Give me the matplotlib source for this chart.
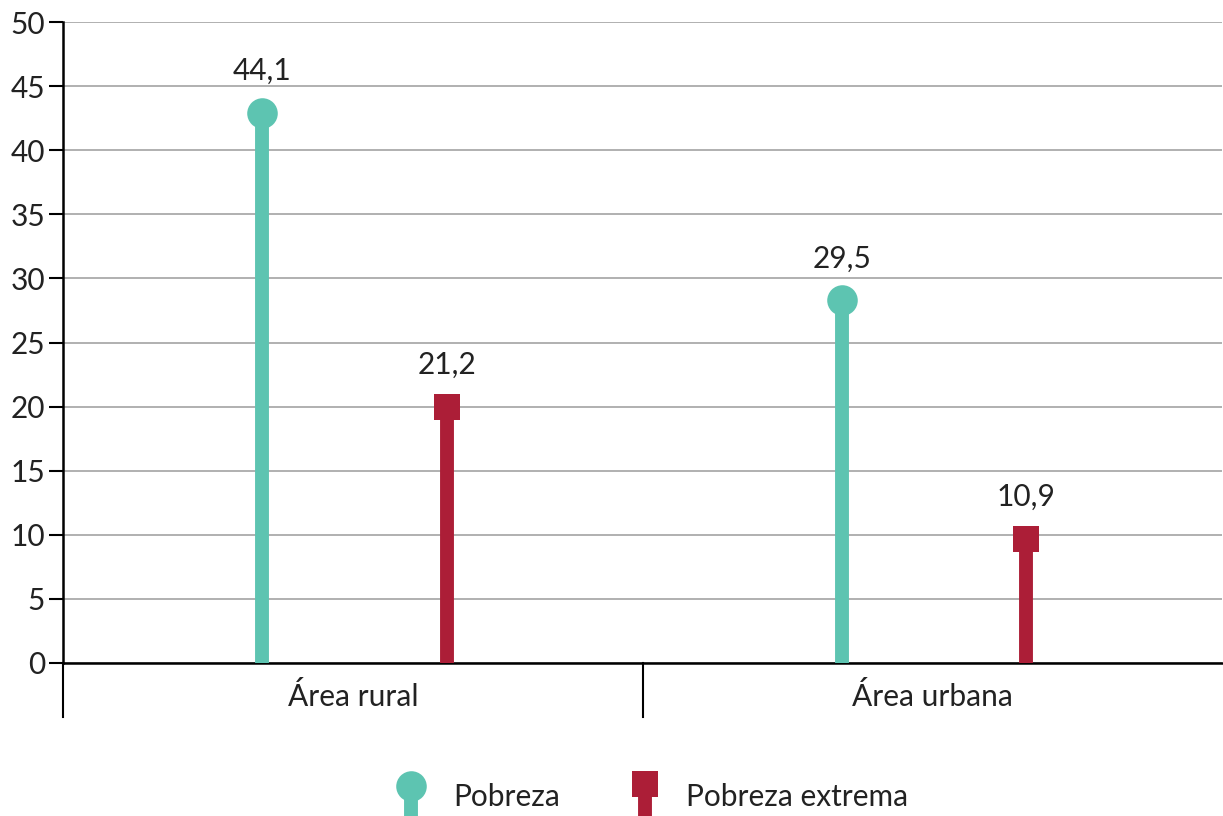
import matplotlib
matplotlib.use("Agg")
import matplotlib.pyplot as plt
from matplotlib.lines import Line2D
import numpy as np

plt.rcParams['font.family'] = ['Lato', 'DejaVu Sans']

categories = ["Área rural", "Área urbana"]
pobreza = [44.1, 29.5]
pobreza_extrema = [21.2, 10.9]
series_names = ["Pobreza", "Pobreza extrema"]
yticks = [0, 5, 10, 15, 20, 25, 30, 35, 40, 45, 50]

teal = "#5DC4B1"
red = "#AC1E37"
txt = "#222222"
fs = 21.5

W, H = 1223, 816
fig = plt.figure(figsize=(W / 100, H / 100), dpi=100)
ax = fig.add_axes([63 / W, 153 / H, 1159 / W, 641 / H])
ax.set_xlim(-0.5, 1.5)
ax.set_ylim(0, 50)
px = 50 / 641  # data units per pixel

ax.set_yticks(yticks)
ax.set_yticklabels([str(t) for t in yticks], fontsize=fs, color=txt)
ax.tick_params(axis='y', length=10, width=1.5, pad=3, color='black')
ax.set_xticks([])
ax.grid(axis='y', color='#aaaaaa', linewidth=1.3)
ax.set_axisbelow(True)
for s in ['top', 'right']:
    ax.spines[s].set_visible(False)
ax.spines['left'].set_linewidth(1.8)
ax.spines['bottom'].set_linewidth(1.8)

x = np.arange(len(categories))

def draw(xs, vals, color, marker, msize, mshift):
    for xi, v in zip(xs, vals):
        ytop = v - mshift * px
        ax.vlines(xi, 0, ytop, color=color, linewidth=10, zorder=3)
        ax.plot([xi], [ytop], marker=marker, color=color, markersize=msize,
                markeredgewidth=0, zorder=4)
        ax.annotate(f"{v:.1f}".replace(".", ","), (xi, v), xytext=(0, 19),
                    textcoords='offset points', ha='center', va='center',
                    fontsize=fs, color=txt)

draw(x - 0.156, pobreza, teal, 'o', 22, 15)
draw(x + 0.162, pobreza_extrema, red, 's', 19, 16)

# category labels and separators below the axis
for xi, c in zip(x, categories):
    ax.text(xi, -34 * px, c, ha='center', va='center', fontsize=fs, color=txt)
for xs in [-0.5, 0.5]:
    ax.plot([xs, xs], [0, -54 * px], color='black', linewidth=1.5, clip_on=False)

# legend drawn at bottom
def fx(p):
    return p / W

def fy(p):
    return 1 - p / H

fig.add_artist(Line2D([fx(411), fx(411)], [fy(790), fy(820)], color=teal, linewidth=10))
fig.add_artist(Line2D([fx(411)], [fy(786)], marker='o', color=teal, markersize=22,
                      markeredgewidth=0))
fig.text(fx(453), fy(797), series_names[0], ha='left', va='center', fontsize=fs, color=txt)
fig.add_artist(Line2D([fx(645), fx(645)], [fy(790), fy(820)], color=red, linewidth=10))
fig.add_artist(Line2D([fx(645)], [fy(784)], marker='s', color=red, markersize=19,
                      markeredgewidth=0))
fig.text(fx(686), fy(797), series_names[1], ha='left', va='center', fontsize=fs, color=txt)

fig.savefig("out.png", dpi=100)
